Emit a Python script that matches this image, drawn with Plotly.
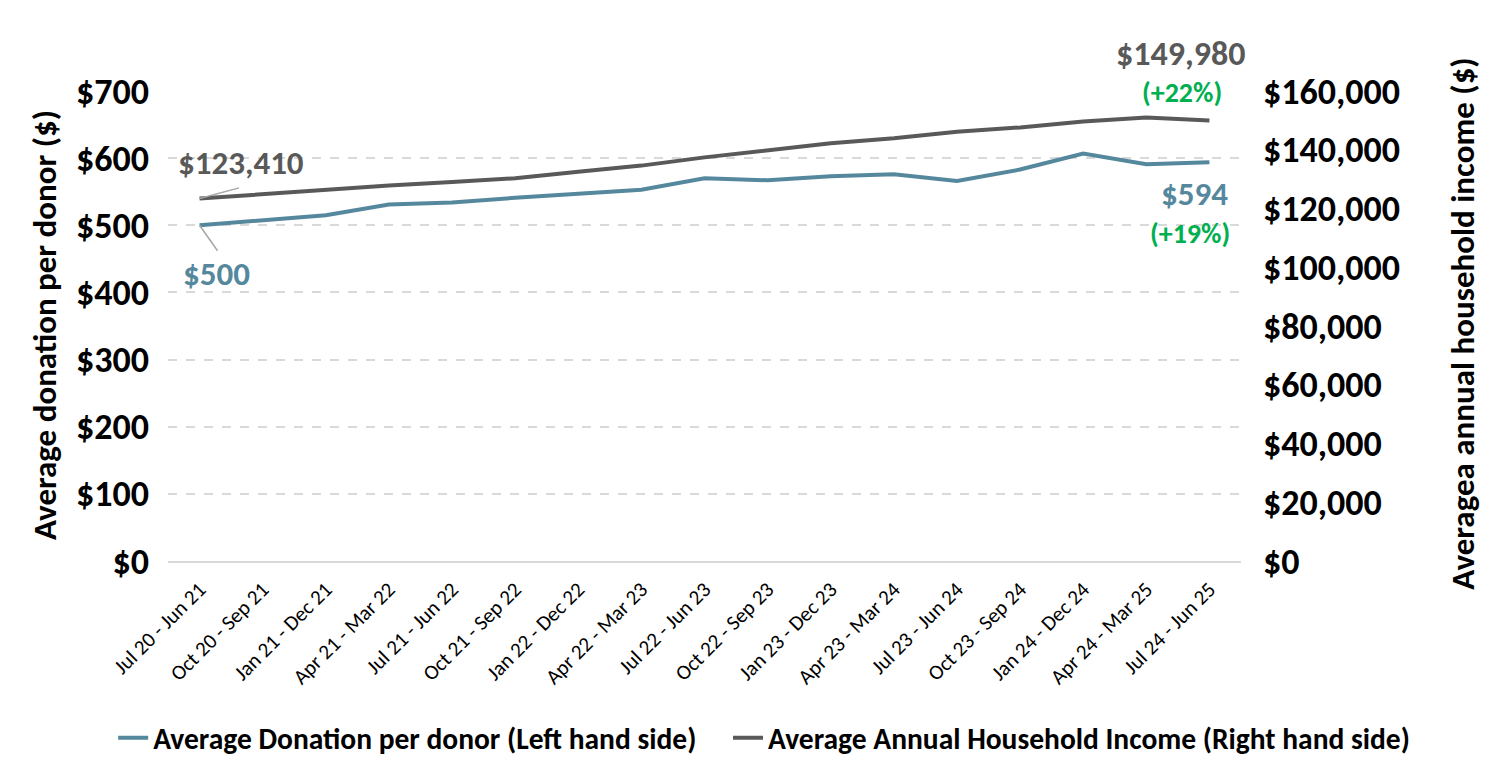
import plotly.graph_objects as go

categories = ["Jul 20 - Jun 21", "Oct 20 - Sep 21", "Jan 21 - Dec 21", "Apr 21 - Mar 22",
              "Jul 21 - Jun 22", "Oct 21 - Sep 22", "Jan 22 - Dec 22", "Apr 22 - Mar 23",
              "Jul 22 - Jun 23", "Oct 22 - Sep 23", "Jan 23 - Dec 23", "Apr 23 - Mar 24",
              "Jul 23 - Jun 24", "Oct 23 - Sep 24", "Jan 24 - Dec 24", "Apr 24 - Mar 25",
              "Jul 24 - Jun 25"]
donation = [500, 508, 515, 531, 534, 541, 547, 553, 570, 567, 573, 576, 566, 583, 607, 591, 594]
income = [123410, 124900, 126300, 127800, 129000, 130300, 132500, 134600, 137400, 139900,
          142200, 143900, 146100, 147600, 149600, 151000, 149980]

left_ticks = [0, 100, 200, 300, 400, 500, 600, 700]
left_labels = ["$" + str(v) for v in left_ticks]
right_ticks = [0, 20000, 40000, 60000, 80000, 100000, 120000, 140000, 160000]
right_labels = ["$" + f"{v:,}" for v in right_ticks]

BLUE = "#56889D"
GRAY = "#595959"
GREEN = "#00B050"
FONT = "Carlito, Calibri, Lato, sans-serif"
NBSP = "\u00a0"

fig = go.Figure()
fig.add_trace(go.Scatter(x=categories, y=donation, mode="lines",
                         name="Average Donation per donor (Left hand side)" + NBSP * 4,
                         line=dict(color=BLUE, width=4), yaxis="y"))
fig.add_trace(go.Scatter(x=categories, y=income, mode="lines",
                         name="Average Annual Household Income (Right hand side)",
                         line=dict(color=GRAY, width=4), yaxis="y2"))

fig.update_layout(
    width=1507, height=775,
    paper_bgcolor="white", plot_bgcolor="white",
    margin=dict(l=160, r=274, t=83, b=222, autoexpand=False),
    font=dict(family=FONT, color="black"),
    showlegend=True,
    legend=dict(orientation="h", x=1.1623, xanchor="right", y=-0.377, yanchor="middle",
                font=dict(size=29.5, family=FONT, color="black", weight="bold"),
                tracegroupgap=0, itemwidth=30),
    xaxis=dict(type="category", tickangle=-45, tickfont=dict(size=21, family=FONT),
               showgrid=False, showline=True, linecolor="#D9D9D9", linewidth=1.5,
               ticks="", ticklabelstandoff=6, range=[-0.5, len(categories) - 0.5],
               automargin=False),
    yaxis=dict(range=[0, 700], tickvals=left_ticks, ticktext=left_labels,
               tickfont=dict(size=36, family=FONT, weight="bold"),
               showgrid=True, gridcolor="#D9D9D9", griddash="dash", gridwidth=1.5,
               zeroline=False, showline=False, ticks="", ticklabelstandoff=18,
               automargin=False),
    yaxis2=dict(range=[0, 160000], tickvals=right_ticks, ticktext=right_labels,
                overlaying="y", side="right",
                tickfont=dict(size=36, family=FONT, weight="bold"),
                showgrid=False, zeroline=False, showline=False, ticks="",
                ticklabelstandoff=21, automargin=False),
)

annotations = [
    dict(text="Average donation per donor ($)", xref="paper", yref="paper",
         x=-0.1146, y=0.502, xanchor="center", yanchor="middle",
         textangle=-90, showarrow=False,
         font=dict(size=33, family=FONT, color="black", weight="bold")),
    dict(text="Averagea annual household income ($)", xref="paper", yref="paper",
         x=1.207, y=0.505, xanchor="center", yanchor="middle",
         textangle=-90, showarrow=False,
         font=dict(size=33, family=FONT, color="black", weight="bold")),
]
fig.update_layout(annotations=annotations)

# leader lines
fig.add_annotation(x=categories[0], y=income[0], yref="y2", text="",
                   showarrow=True, arrowhead=0, arrowcolor="#A6A6A6", arrowwidth=1.5,
                   ax=41, ay=-11)
fig.add_annotation(x=categories[0], y=donation[0], yref="y", text="",
                   showarrow=True, arrowhead=0, arrowcolor="#A6A6A6", arrowwidth=1.5,
                   ax=19, ay=27)

# data labels
fig.add_annotation(x=categories[0], y=income[0], yref="y2", text="$" + f"{income[0]:,}",
                   showarrow=False, xshift=41, yshift=35,
                   font=dict(size=33, color=GRAY, family=FONT, weight="bold"))
fig.add_annotation(x=categories[0], y=donation[0], yref="y", text="$" + str(donation[0]),
                   showarrow=False, xshift=17, yshift=-49,
                   font=dict(size=33, color=BLUE, family=FONT, weight="bold"))
fig.add_annotation(x=categories[-1], y=income[-1], yref="y2",
                   text="$" + f"{income[-1]:,}",
                   showarrow=False, xshift=-29, yshift=67,
                   font=dict(size=34, color=GRAY, family=FONT, weight="bold"))
fig.add_annotation(x=categories[-1], y=income[-1], yref="y2", text="(+22%)",
                   showarrow=False, xshift=-27, yshift=28,
                   font=dict(size=28, color=GREEN, family=FONT, weight="bold"))
fig.add_annotation(x=categories[-1], y=donation[-1], yref="y", text="$" + str(donation[-1]),
                   showarrow=False, xshift=-15, yshift=-32,
                   font=dict(size=33, color=BLUE, family=FONT, weight="bold"))
fig.add_annotation(x=categories[-1], y=donation[-1], yref="y", text="(+19%)",
                   showarrow=False, xshift=-19, yshift=-71,
                   font=dict(size=28, color=GREEN, family=FONT, weight="bold"))

fig.write_html("out.html")
